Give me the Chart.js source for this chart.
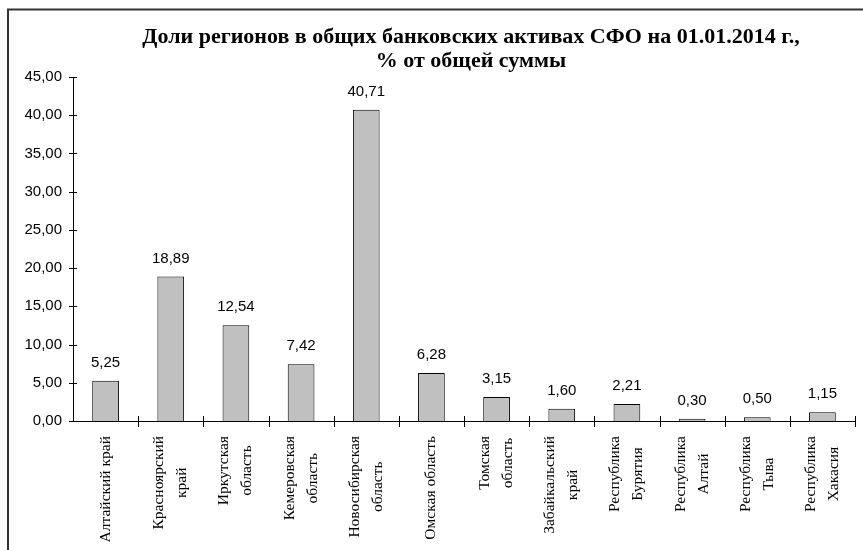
<!DOCTYPE html>
<html>
<head>
<meta charset="utf-8">
<script src="https://cdn.jsdelivr.net/npm/chart.js@4/dist/chart.umd.min.js"></script>
<style>
  html, body { margin: 0; padding: 0; background: #fff; }
  #wrap { position: relative; width: 863px; height: 550px; }
</style>
</head>
<body>
<div id="wrap"><canvas id="chart"></canvas></div>
<script>
// data
const regions = [
    ['Алтайский край'],
    ['Красноярский', 'край'],
    ['Иркутская', 'область'],
    ['Кемеровская', 'область'],
    ['Новосибирская', 'область'],
    ['Омская область'],
    ['Томская', 'область'],
    ['Забайкальский', 'край'],
    ['Республика', 'Бурятия'],
    ['Республика', 'Алтай'],
    ['Республика', 'Тыва'],
    ['Республика', 'Хакасия'],
];
const shares = [5.25, 18.89, 12.54, 7.42, 40.71, 6.28, 3.15, 1.60, 2.21, 0.30, 0.50, 1.15];
const titleLines = ['Доли регионов в общих банковских активах СФО на 01.01.2014 г.,', '% от общей суммы'];
const yMin = 0, yMax = 45, yStep = 5;

const fmt = v => v.toFixed(2).replace('.', ',');

// frame, title, tick marks, value labels and rotated category labels
const decorPlugin = {
    id: 'decor',
    beforeDraw(chart) {
        const ctx = chart.ctx;
        ctx.save();
        ctx.fillStyle = '#fff';
        ctx.fillRect(0, 0, chart.width, chart.height);
        ctx.strokeStyle = '#333';
        ctx.lineWidth = 2;
        ctx.beginPath();
        ctx.moveTo(8, chart.height);
        ctx.lineTo(8, 9.5);
        ctx.lineTo(chart.width, 9.5);
        ctx.stroke();
        ctx.restore();
    },
    afterDraw(chart) {
        const ctx = chart.ctx;
        const x = chart.scales.x, y = chart.scales.y;
        ctx.save();

        // title
        ctx.fillStyle = '#000';
        ctx.font = 'bold 22px "Liberation Serif", "Times New Roman", serif';
        ctx.textAlign = 'center';
        ctx.textBaseline = 'middle';
        ctx.fillText(titleLines[0], 471, 37);
        ctx.fillText(titleLines[1], 471, 61);

        // tick marks crossing the axes
        ctx.strokeStyle = '#000';
        ctx.lineWidth = 1;
        ctx.beginPath();
        y.ticks.forEach((t, i) => {
            const py = Math.round(y.getPixelForTick(i)) + 0.5;
            ctx.moveTo(x.left - 4, py);
            ctx.lineTo(x.left + 4, py);
        });
        const step = (x.right - x.left) / regions.length;
        for (let i = 1; i <= regions.length; i++) {
            const px = Math.round(x.left + i * step) + 0.5;
            ctx.moveTo(px, y.bottom - 5);
            ctx.lineTo(px, y.bottom + 6);
        }
        ctx.stroke();

        // value labels
        ctx.font = '15px "Liberation Sans", Arial, sans-serif';
        ctx.textAlign = 'center';
        ctx.textBaseline = 'middle';
        chart.getDatasetMeta(0).data.forEach((bar, i) => {
            ctx.fillText(fmt(shares[i]), bar.x, bar.y - 18);
        });

        // category labels, rotated, lines centred on each other
        ctx.font = '15.5px "Liberation Serif", "Times New Roman", serif';
        const lineGap = 23;
        regions.forEach((lines, i) => {
            const cx = x.getPixelForValue(i);
            const maxW = Math.max(...lines.map(l => ctx.measureText(l).width));
            const cy = y.bottom + 15 + maxW / 2;
            lines.forEach((line, k) => {
                const lx = cx + (k - (lines.length - 1) / 2) * lineGap;
                ctx.save();
                ctx.translate(lx, cy);
                ctx.rotate(-Math.PI / 2);
                ctx.fillText(line, 0, 0);
                ctx.restore();
            });
        });
        ctx.restore();
    }
};

new Chart(document.getElementById('chart'), {
    type: 'bar',
    data: {
        labels: regions.map(l => l.join(' ')),
        datasets: [{
            data: shares,
            backgroundColor: '#c0c0c0',
            borderColor: '#000',
            borderWidth: 1,
            barPercentage: 0.41,
            categoryPercentage: 1.0,
        }]
    },
    options: {
        responsive: true,
        maintainAspectRatio: false,
        animation: false,
        layout: { padding: { top: 77, right: 8, left: 0, bottom: 0 } },
        plugins: {
            legend: { display: false },
            tooltip: { enabled: false },
            title: { display: false },
        },
        scales: {
            x: {
                grid: { display: false, drawTicks: false },
                border: { display: true, color: '#000', width: 1 },
                ticks: { display: false },
                afterFit: s => { s.height = 129; },
            },
            y: {
                min: yMin,
                max: yMax,
                grid: { display: false, drawTicks: false },
                border: { display: true, color: '#000', width: 1 },
                ticks: {
                    stepSize: yStep,
                    padding: 11,
                    color: '#000',
                    font: { family: '"Liberation Sans", Arial, sans-serif', size: 15 },
                    callback: v => fmt(v),
                },
                afterFit: s => { s.width = 73; },
            }
        }
    },
    plugins: [decorPlugin]
});
</script>
</body>
</html>
